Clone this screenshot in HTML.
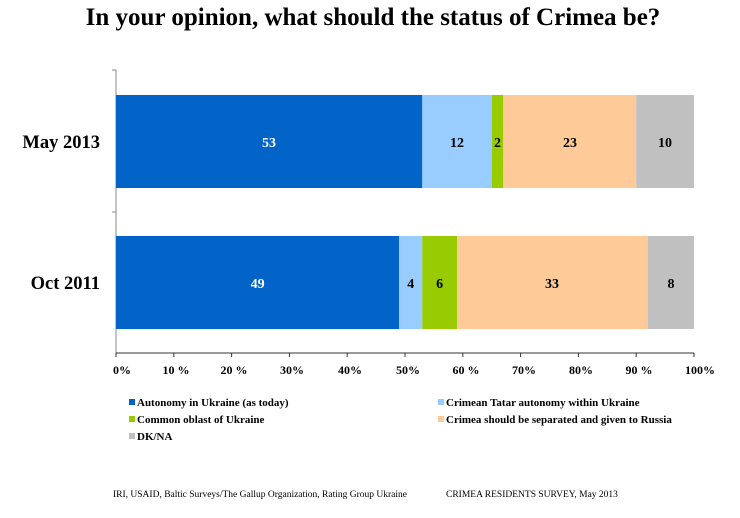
<!DOCTYPE html>
<html><head><meta charset="utf-8"><style>
body{margin:0;background:#fff;width:740px;height:513px;overflow:hidden;font-family:"Liberation Serif",serif;}
</style></head><body>
<svg width="740" height="513" xmlns="http://www.w3.org/2000/svg" font-family="Liberation Serif, serif">
<text x="373" y="25" text-anchor="middle" font-size="25" font-weight="bold">In your opinion, what should the status of Crimea be?</text>
<line x1="116" y1="70" x2="116" y2="354" stroke="#888" stroke-width="1"/>
<line x1="112" y1="212" x2="116" y2="212" stroke="#888"/>
<line x1="112" y1="70" x2="116" y2="70" stroke="#888"/>
<line x1="116" y1="353" x2="694" y2="353" stroke="#333" stroke-width="1"/>
<g stroke="#333">
<line x1="116" y1="353" x2="116" y2="357"/><line x1="173.8" y1="353" x2="173.8" y2="357"/><line x1="231.6" y1="353" x2="231.6" y2="357"/><line x1="289.4" y1="353" x2="289.4" y2="357"/><line x1="347.2" y1="353" x2="347.2" y2="357"/><line x1="405" y1="353" x2="405" y2="357"/><line x1="462.8" y1="353" x2="462.8" y2="357"/><line x1="520.6" y1="353" x2="520.6" y2="357"/><line x1="578.4" y1="353" x2="578.4" y2="357"/><line x1="636.2" y1="353" x2="636.2" y2="357"/><line x1="694" y1="353" x2="694" y2="357"/>
</g>
<g font-size="12" font-weight="bold" text-anchor="middle">
<text x="122" y="374">0%</text><text x="176" y="374">10 %</text><text x="234" y="374">20 %</text><text x="292" y="374">30%</text><text x="350" y="374">40%</text><text x="408" y="374">50%</text><text x="466" y="374">60 %</text><text x="524" y="374">70%</text><text x="581" y="374">80%</text><text x="639" y="374">90 %</text><text x="700" y="374">100%</text>
</g>
<rect x="116" y="95" width="306.3" height="93" fill="#0264c9"/>
<rect x="422.3" y="95" width="69.4" height="93" fill="#99ccff"/>
<rect x="491.7" y="95" width="11.6" height="93" fill="#99cc00"/>
<rect x="503.3" y="95" width="132.9" height="93" fill="#fdca98"/>
<rect x="636.2" y="95" width="57.8" height="93" fill="#c0c0c0"/>
<rect x="116" y="236" width="283.2" height="93" fill="#0264c9"/>
<rect x="399.2" y="236" width="23.1" height="93" fill="#99ccff"/>
<rect x="422.3" y="236" width="34.7" height="93" fill="#99cc00"/>
<rect x="457" y="236" width="190.7" height="93" fill="#fdca98"/>
<rect x="647.7" y="236" width="46.3" height="93" fill="#c0c0c0"/>
<g font-size="14" font-weight="bold" text-anchor="middle">
<text x="269" y="147" fill="#fff">53</text><text x="457" y="147">12</text><text x="497.5" y="147">2</text><text x="570" y="147">23</text><text x="665" y="147">10</text>
<text x="257.6" y="288" fill="#fff">49</text><text x="410.7" y="288">4</text><text x="439.6" y="288">6</text><text x="552" y="288">33</text><text x="671" y="288">8</text>
</g>
<g font-size="18.5" font-weight="bold" text-anchor="end">
<text x="100" y="148">May 2013</text><text x="100" y="289">Oct 2011</text>
</g>
<g font-size="11" font-weight="bold">
<rect x="129" y="399" width="6" height="6" fill="#0264c9"/><text x="137" y="406">Autonomy in Ukraine (as today)</text>
<rect x="438" y="399" width="6" height="6" fill="#99ccff"/><text x="446" y="406">Crimean Tatar autonomy within Ukraine</text>
<rect x="129" y="416" width="6" height="6" fill="#99cc00"/><text x="137" y="423">Common oblast of Ukraine</text>
<rect x="438" y="416" width="6" height="6" fill="#fdca98"/><text x="446" y="423">Crimea should be separated and given to Russia</text>
<rect x="129" y="433" width="6" height="6" fill="#c0c0c0"/><text x="137" y="440">DK/NA</text>
</g>
<g font-size="9.5">
<text x="113" y="497">IRI, USAID,  Baltic Surveys/The Gallup Organization, Rating Group Ukraine</text>
<text x="446" y="497">CRIMEA RESIDENTS SURVEY, May 2013</text>
</g>
</svg>
</body></html>
